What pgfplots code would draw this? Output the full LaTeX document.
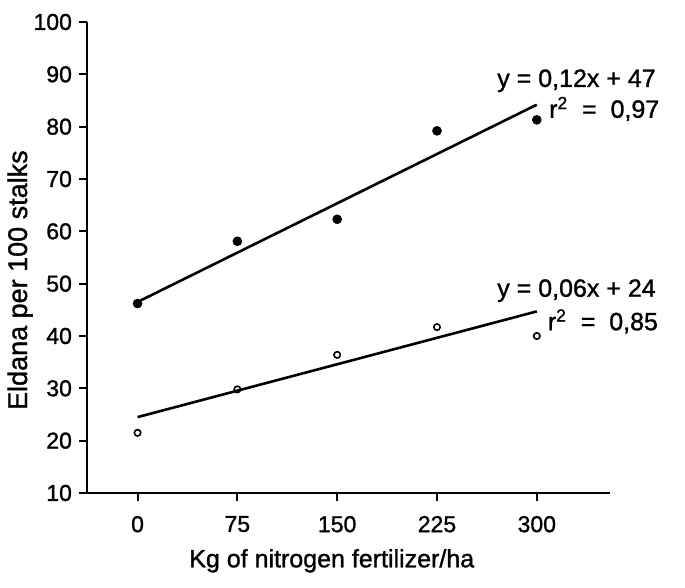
\documentclass[border=0pt]{standalone}
\usepackage{fontspec}
\setmainfont{Liberation Sans}[RawFeature={embolden=1.2}]
\usepackage{pgfplots}
\pgfplotsset{compat=1.18}

% filled points: stalks with nitrogen; open points: second series
\pgfplotstableread{
x y
0 46.2
75 58.1
150 62.3
225 79.2
300 81.3
}\filled
\pgfplotstableread{
x y
0 21.5
75 29.8
150 36.4
225 41.7
300 40.0
}\opened

\begin{document}
\begin{tikzpicture}
\begin{axis}[
  scale only axis,
  width=261.5pt, height=235.5pt,
  xmin=-38, xmax=355,
  ymin=10, ymax=100,
  axis x line=bottom, axis y line=left,
  axis line style={-, line width=1.3pt},
  xtick={0,75,150,225,300},
  ytick={10,20,...,100},
  tick align=outside,
  tick style={line width=1pt, black},
  major tick length=4pt,
  x tick label style={yshift=-4pt},
  tick label style={font=\fontsize{11.5}{13}\selectfont},
  /pgf/number format/assume math mode=true,
  xlabel={Kg of nitrogen fertilizer/ha},
  ylabel={Eldana per 100 stalks},
  xlabel style={font=\fontsize{12.5}{15}\selectfont, at={(axis description cs:0.468,-0.144)}, anchor=center},
  ylabel style={font=\fontsize{13.5}{15}\selectfont, at={(axis description cs:-0.128,0.452)}, anchor=center},
  clip=false,
]
\addplot[only marks, mark=*, mark size=2.2pt, black] table {\filled};
\addplot[only marks, mark=o, mark size=1.6pt, mark options={line width=0.8pt}, black] table {\opened};
\addplot[black, line width=1.3pt] coordinates {(0,46.5) (300,84.2)};
\addplot[black, line width=1.3pt] coordinates {(0,24.5) (300,44.7)};

\node[anchor=base west, inner sep=0, font=\fontsize{12.5}{15}\selectfont] at (axis cs:270,87.6) {y = 0,12x + 47};
\node[anchor=base west, inner sep=0, font=\fontsize{12.5}{15}\selectfont] at (axis cs:309,81.7) {r\textsuperscript{2}\ \ =\ \ 0,97};
\node[anchor=base west, inner sep=0, font=\fontsize{12.5}{15}\selectfont] at (axis cs:270,47.5) {y = 0,06x + 24};
\node[anchor=base west, inner sep=0, font=\fontsize{12.5}{15}\selectfont] at (axis cs:308,41.1) {r\textsuperscript{2}\ \ =\ \ 0,85};

\coordinate (bl) at (axis description cs:-0.1663,-0.1996);
\coordinate (tr) at (axis description cs:1.1434,1.0467);
\end{axis}
\pgfresetboundingbox
\path[use as bounding box] (bl) rectangle (tr);
\end{tikzpicture}
\end{document}
